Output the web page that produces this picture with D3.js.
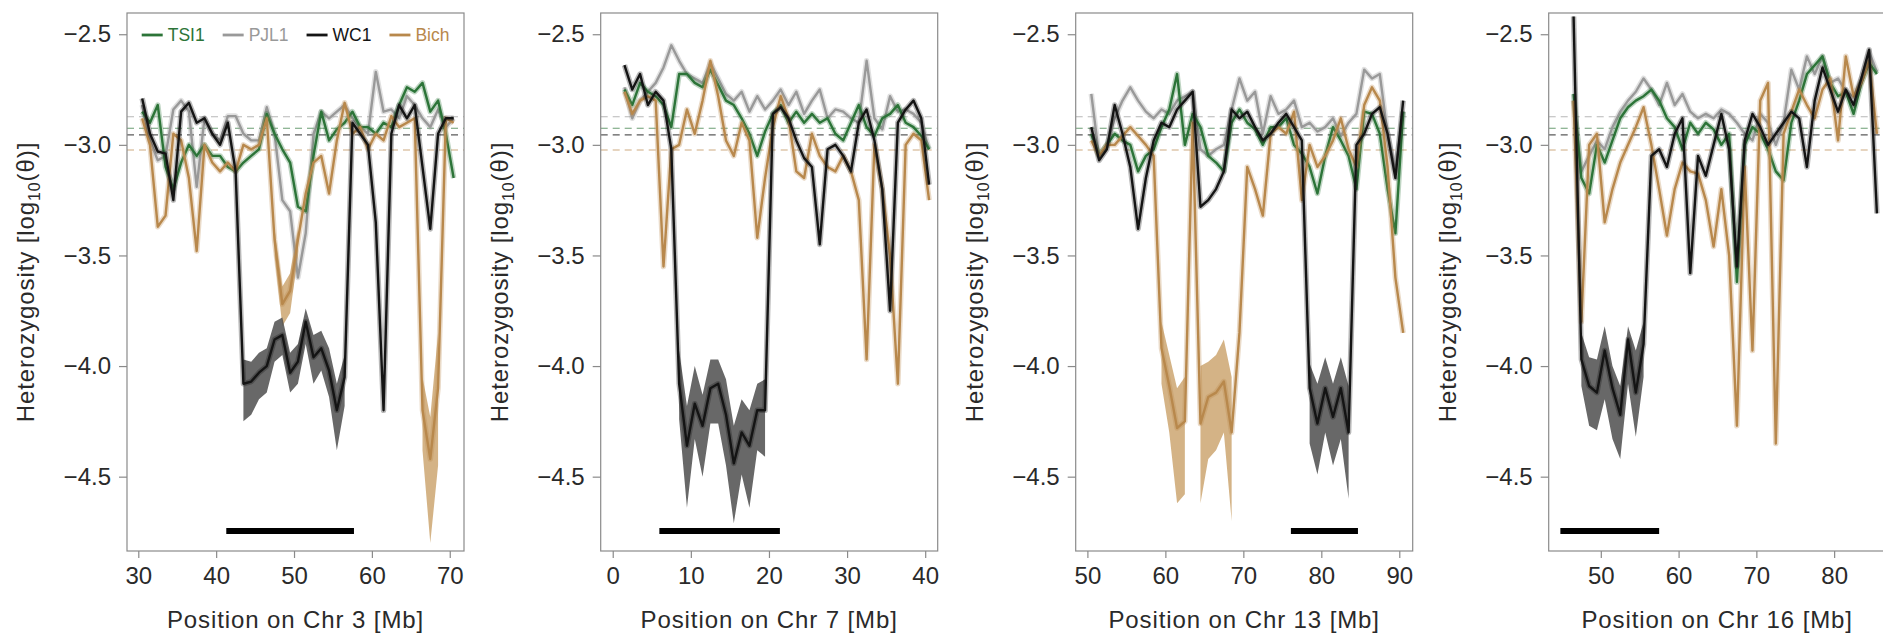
<!DOCTYPE html>
<html><head><meta charset="utf-8">
<script src="https://cdn.jsdelivr.net/npm/d3@7"></script>
<style>
body{margin:0;background:#fff}
svg{display:block;font-family:"Liberation Sans",Arial,Helvetica,sans-serif}
</style>
</head><body>
<svg id="chart" width="1883" height="637"></svg>
<script>
// ---------------- DATA ----------------
const chromosomes = ["3", "7", "13", "16"];
const sampleNames = ["TSI1", "PJL1", "WC1", "Bich"];
const sampleColors = {TSI1: "#2c7438", PJL1: "#999999", WC1: "#141414", Bich: "#b8884c"};

// window start (Mb) of the first 1-Mb window in each panel
const windowStart = {"3": 30.5, "7": 1.5, "13": 50.5, "16": 46.5};

// Chr 3 (41 windows)
const tsi1_chr3 = [-2.85,-2.9,-2.82,-3.1,-3.2,-3.08,-3.0,-3.05,-3.0,-3.05,-3.05,-3.1,-3.12,-3.08,-3.05,-3.02,-2.86,-2.95,-3.02,-3.08,-3.28,-3.3,-3.05,-2.85,-2.98,-2.93,-2.9,-2.85,-2.92,-2.92,-2.95,-2.9,-2.92,-2.82,-2.74,-2.76,-2.72,-2.85,-2.8,-2.95,-3.15];
const pjl1_chr3 = [-2.82,-2.98,-3.07,-3.05,-2.84,-2.8,-2.85,-3.19,-2.88,-2.95,-2.98,-2.87,-2.87,-2.95,-2.98,-2.98,-2.83,-2.95,-3.25,-3.3,-3.6,-3.4,-2.95,-2.85,-2.88,-2.85,-2.82,-2.88,-2.92,-2.95,-2.67,-2.85,-2.84,-2.88,-2.78,-2.82,-2.88,-2.92,-2.84,-2.92,-2.88];
const wc1_chr3  = [-2.79,-2.95,-3.03,-3.04,-3.25,-2.85,-2.81,-2.9,-2.88,-2.95,-3.0,-2.9,-3.12,-4.08,-4.07,-4.03,-4.0,-3.88,-3.86,-4.03,-3.98,-3.8,-3.96,-3.92,-4.02,-4.2,-4.05,-2.9,-2.95,-3.0,-3.35,-4.2,-2.95,-2.82,-2.88,-2.82,-3.1,-3.38,-2.95,-2.88,-2.88];
const bich_chr3 = [-2.88,-3.0,-3.37,-3.32,-2.95,-2.98,-3.15,-3.48,-3.0,-3.08,-3.12,-3.08,-3.12,-3.0,-3.02,-3.0,-2.88,-3.43,-3.72,-3.66,-3.43,-3.22,-3.08,-3.05,-3.22,-2.98,-2.81,-2.95,-2.92,-3.02,-2.95,-2.98,-2.87,-2.92,-2.9,-2.88,-4.2,-4.42,-4.1,-2.88,-2.9];

// Chr 7 (40 windows)
const tsi1_chr7 = [-2.75,-2.82,-2.72,-2.76,-2.78,-2.82,-2.92,-2.68,-2.68,-2.72,-2.74,-2.66,-2.73,-2.8,-2.82,-2.88,-2.95,-3.05,-2.94,-2.86,-2.82,-2.9,-2.85,-2.9,-2.86,-2.9,-2.88,-2.95,-2.98,-2.9,-2.82,-2.92,-2.96,-2.88,-2.86,-2.82,-2.9,-2.92,-2.96,-3.02];
const pjl1_chr7 = [-2.74,-2.88,-2.8,-2.76,-2.72,-2.65,-2.55,-2.62,-2.68,-2.7,-2.72,-2.63,-2.7,-2.77,-2.8,-2.76,-2.85,-2.78,-2.84,-2.8,-2.75,-2.82,-2.76,-2.86,-2.8,-2.75,-2.88,-2.84,-2.85,-2.88,-2.9,-2.62,-2.88,-2.93,-2.78,-2.85,-2.84,-2.86,-2.9,-3.02];
const wc1_chr7  = [-2.64,-2.75,-2.68,-2.82,-2.76,-2.8,-3.02,-4.08,-4.36,-4.17,-4.27,-4.1,-4.08,-4.22,-4.44,-4.3,-4.36,-4.2,-4.2,-2.86,-2.83,-2.88,-2.98,-3.06,-3.1,-3.45,-3.02,-3.0,-3.05,-3.12,-2.9,-2.84,-2.98,-3.2,-3.75,-2.9,-2.84,-2.8,-2.88,-3.18];
const bich_chr7 = [-2.76,-2.86,-2.8,-2.78,-2.8,-3.55,-3.02,-3.0,-2.84,-2.95,-2.8,-2.62,-2.78,-2.98,-3.05,-2.9,-2.98,-3.42,-3.15,-2.92,-2.78,-2.88,-3.12,-3.15,-2.95,-3.05,-3.1,-3.12,-3.05,-3.12,-3.25,-3.97,-3.0,-3.2,-3.5,-4.08,-3.0,-2.95,-2.98,-3.25];

// Chr 13 (41 windows)
const tsi1_chr13 = [-2.95,-3.05,-3.0,-2.95,-2.98,-3.0,-3.12,-3.05,-3.02,-2.92,-2.84,-2.68,-3.0,-2.86,-2.92,-3.05,-3.08,-3.12,-2.9,-2.84,-2.9,-2.93,-3.0,-2.92,-2.92,-2.88,-3.0,-3.04,-3.1,-3.22,-3.05,-2.92,-2.98,-3.05,-3.2,-2.85,-2.86,-2.95,-3.2,-3.4,-2.85];
const pjl1_chr13 = [-2.77,-3.05,-3.0,-2.88,-2.8,-2.74,-2.8,-2.85,-2.88,-2.84,-2.86,-2.8,-2.78,-2.76,-3.02,-3.05,-3.02,-3.0,-2.84,-2.7,-2.8,-2.76,-2.95,-2.78,-2.86,-2.84,-2.8,-2.92,-2.9,-2.94,-2.92,-2.88,-2.96,-2.9,-2.86,-2.66,-2.7,-2.68,-2.95,-3.12,-2.85];
const wc1_chr13  = [-2.92,-3.07,-3.02,-2.82,-2.95,-3.1,-3.38,-3.15,-2.98,-2.9,-2.92,-2.84,-2.8,-2.76,-3.28,-3.25,-3.2,-3.12,-2.84,-2.88,-2.85,-2.92,-2.98,-2.95,-2.9,-2.86,-2.92,-2.98,-4.1,-4.26,-4.1,-4.23,-4.1,-4.3,-3.0,-2.95,-2.86,-2.83,-2.95,-3.15,-2.8];
const bich_chr13 = [-2.98,-3.05,-3.0,-3.0,-2.96,-2.92,-2.96,-3.0,-3.05,-3.92,-4.09,-4.28,-4.25,-2.9,-4.26,-4.14,-4.12,-4.07,-4.3,-3.85,-3.1,-3.2,-3.32,-2.95,-2.92,-2.95,-2.85,-3.25,-3.0,-3.1,-3.05,-2.98,-2.88,-3.02,-3.1,-2.82,-2.74,-2.8,-3.1,-3.6,-3.85];

// Chr 16 (40 windows)
const tsi1_chr16 = [-2.77,-3.15,-3.22,-3.0,-3.08,-2.98,-2.88,-2.83,-2.8,-2.78,-2.75,-2.8,-2.88,-2.92,-3.02,-2.9,-2.95,-2.9,-2.93,-3.0,-2.95,-3.62,-3.0,-2.92,-2.95,-3.02,-3.12,-3.16,-2.9,-2.8,-2.68,-2.64,-2.6,-2.72,-2.78,-2.76,-2.86,-2.72,-2.63,-2.68];
const pjl1_chr16 = [-2.8,-3.12,-3.05,-2.98,-3.02,-2.92,-2.85,-2.8,-2.76,-2.7,-2.75,-2.82,-2.72,-2.82,-2.77,-2.85,-2.88,-2.86,-2.88,-2.84,-2.86,-2.9,-2.95,-2.98,-2.86,-2.9,-3.0,-2.9,-2.66,-2.75,-2.6,-2.68,-2.6,-2.72,-2.7,-2.76,-2.78,-2.7,-2.58,-2.67];
const wc1_chr16  = [-2.42,-3.97,-4.09,-4.12,-3.93,-4.1,-4.22,-3.88,-4.12,-3.9,-3.05,-3.02,-3.1,-2.95,-2.88,-3.58,-3.05,-3.14,-3.0,-2.86,-3.02,-3.55,-2.98,-2.86,-2.92,-3.0,-2.95,-2.9,-2.85,-2.88,-3.1,-2.8,-2.65,-2.75,-2.85,-2.75,-2.82,-2.7,-2.57,-3.31];
const bich_chr16 = [-2.8,-3.8,-3.0,-2.95,-3.35,-3.2,-3.08,-3.0,-2.92,-2.83,-3.0,-3.2,-3.41,-3.2,-3.08,-3.12,-3.13,-3.25,-3.46,-3.2,-3.5,-4.27,-3.1,-3.93,-2.8,-2.72,-4.35,-2.95,-2.85,-2.75,-2.82,-2.88,-2.75,-2.7,-2.98,-2.6,-2.78,-2.72,-2.62,-2.95];

// confidence bands inside runs of homozygosity: [position, upper, lower]
const wc1Band_chr3  = [[[43.5,-3.97,-4.25],[44.5,-3.98,-4.22],[45.5,-3.94,-4.15],[46.5,-3.92,-4.12],[47.5,-3.8,-3.98],[48.5,-3.78,-3.95],[49.5,-3.94,-4.12],[50.5,-3.9,-4.08],[51.5,-3.74,-3.9],[52.5,-3.86,-4.08],[53.5,-3.84,-4.02],[54.5,-3.92,-4.14],[55.5,-4.08,-4.38],[56.5,-3.95,-4.18]]];
const bichBand_chr3 = [[[47.5,-3.38,-3.5],[48.5,-3.64,-3.82],[49.5,-3.58,-3.76],[50.5,-3.38,-3.5]],
                       [[66.5,-4.05,-4.38],[67.5,-4.23,-4.8],[68.5,-3.85,-4.45]]];
const wc1Band_chr7  = [[[8.5,-3.93,-4.24],[9.5,-4.18,-4.64],[10.5,-4.0,-4.33],[11.5,-4.13,-4.5],[12.5,-3.97,-4.26],[13.5,-3.97,-4.26],[14.5,-4.06,-4.45],[15.5,-4.27,-4.71],[16.5,-4.15,-4.49],[17.5,-4.2,-4.64],[18.5,-4.08,-4.38],[19.5,-4.06,-4.41]]];
const bichBand_chr7 = [];
const wc1Band_chr13 = [[[78.5,-3.99,-4.35],[79.5,-4.08,-4.49],[80.5,-3.96,-4.3],[81.5,-4.08,-4.45],[82.5,-3.96,-4.33],[83.5,-4.09,-4.6]]];
const bichBand_chr13 = [[[59.5,-3.8,-4.08],[60.5,-3.95,-4.3],[61.5,-4.1,-4.62],[62.5,-4.05,-4.58]],
                        [[64.5,-4.0,-4.62],[65.5,-3.98,-4.42],[66.5,-3.95,-4.38],[67.5,-3.88,-4.3],[68.5,-4.05,-4.7]]];
const wc1Band_chr16 = [[[47.5,-3.85,-4.09],[48.5,-3.96,-4.27],[49.5,-3.97,-4.29],[50.5,-3.82,-4.15],[51.5,-4.0,-4.33],[52.5,-4.09,-4.42],[53.5,-3.82,-4.08],[54.5,-3.93,-4.32],[55.5,-3.8,-4.05]]];
const bichBand_chr16 = [];

// genome-wide mean heterozygosity per sample (dashed lines)
const genomeMean = {PJL1: -2.873, TSI1: -2.925, WC1: -2.955, Bich: -3.023};

// black bars: ROH extent [start, end] in Mb
const rohBars = {"3": [41.3, 57.7], "7": [5.97, 21.4], "13": [76.1, 84.7], "16": [44.8, 57.5]};

// axis ticks
const yTicks = [-2.5, -3.0, -3.5, -4.0, -4.5];
const xTicks = {"3": [30,40,50,60,70], "7": [0,10,20,30,40], "13": [50,60,70,80,90], "16": [50,60,70,80]};
const xDomains = {"3": [28.55, 71.83], "7": [-1.54, 41.6], "13": [48.5, 91.72], "16": [43.3, 86.63]};
const yDomain = [-4.836, -2.404];

const seriesByChr = {
  "3":  {TSI1: tsi1_chr3,  PJL1: pjl1_chr3,  WC1: wc1_chr3,  Bich: bich_chr3},
  "7":  {TSI1: tsi1_chr7,  PJL1: pjl1_chr7,  WC1: wc1_chr7,  Bich: bich_chr7},
  "13": {TSI1: tsi1_chr13, PJL1: pjl1_chr13, WC1: wc1_chr13, Bich: bich_chr13},
  "16": {TSI1: tsi1_chr16, PJL1: pjl1_chr16, WC1: wc1_chr16, Bich: bich_chr16}
};
const bandsByChr = {
  "3":  {WC1: wc1Band_chr3,  Bich: bichBand_chr3},
  "7":  {WC1: wc1Band_chr7,  Bich: bichBand_chr7},
  "13": {WC1: wc1Band_chr13, Bich: bichBand_chr13},
  "16": {WC1: wc1Band_chr16, Bich: bichBand_chr16}
};

// ---------------- LAYOUT ----------------
const panelLeft = [127, 600.7, 1075.7, 1548.7];
const panelW = 337, plotTop = 13, plotBottom = 551;
const bandFill = {WC1: "#4d4d4d", Bich: "#c9a068"};
const drawOrder = ["PJL1", "TSI1", "Bich", "WC1"];

const svg = d3.select("#chart");
const y = d3.scaleLinear().domain(yDomain).range([plotBottom, plotTop]);

chromosomes.forEach((chr, i) => {
  const left = panelLeft[i];
  const x = d3.scaleLinear().domain(xDomains[chr]).range([left, left + panelW]);
  const g = svg.append("g");

  const clipId = "clip" + i;
  svg.append("clipPath").attr("id", clipId).append("rect")
    .attr("x", left).attr("y", plotTop).attr("width", panelW).attr("height", plotBottom - plotTop);
  const plot = g.append("g").attr("clip-path", `url(#${clipId})`);

  // dashed genome-wide means
  sampleNames.forEach(s => {
    plot.append("line")
      .attr("x1", left).attr("x2", left + panelW)
      .attr("y1", y(genomeMean[s])).attr("y2", y(genomeMean[s]))
      .attr("stroke", sampleColors[s]).attr("stroke-width", 1.1)
      .attr("stroke-opacity", 0.7).attr("stroke-dasharray", "7,5");
  });

  const area = d3.area().x(d => x(d[0])).y0(d => y(d[2])).y1(d => y(d[1]));
  ["Bich", "WC1"].forEach(s => {
    (bandsByChr[chr][s] || []).forEach(seg => {
      plot.append("path").attr("d", area(seg))
        .attr("fill", bandFill[s]).attr("fill-opacity", s === "WC1" ? 0.85 : 0.8);
    });
  });

  const line = d3.line().x(d => x(d[0])).y(d => y(d[1]));
  drawOrder.forEach(s => {
    const vals = seriesByChr[chr][s];
    const pts = vals.map((v, k) => [windowStart[chr] + k, v]);
    plot.append("path").attr("d", line(pts)).attr("fill", "none")
      .attr("stroke", sampleColors[s]).attr("stroke-width", 5.5)
      .attr("stroke-opacity", 0.3).attr("stroke-linejoin", "round");
    plot.append("path").attr("d", line(pts)).attr("fill", "none")
      .attr("stroke", sampleColors[s]).attr("stroke-width", 2.4)
      .attr("stroke-linejoin", "round");
  });

  // ROH bar
  const bar = rohBars[chr];
  g.append("line").attr("x1", x(bar[0])).attr("x2", x(bar[1]))
    .attr("y1", 531).attr("y2", 531).attr("stroke", "#000").attr("stroke-width", 6);

  // box
  g.append("rect").attr("x", left).attr("y", plotTop).attr("width", panelW).attr("height", plotBottom - plotTop)
    .attr("fill", "none").attr("stroke", "#8a8a8a").attr("stroke-width", 1.2);

  // axes
  const yAxis = d3.axisLeft(y).tickValues(yTicks).tickSize(8).tickPadding(8)
    .tickFormat(d3.format(".1f"));
  const ya = g.append("g").attr("transform", `translate(${left},0)`).call(yAxis);
  const xAxis = d3.axisBottom(x).tickValues(xTicks[chr]).tickSize(7).tickPadding(9)
    .tickFormat(d3.format("d"));
  const xa = g.append("g").attr("transform", `translate(0,${plotBottom})`).call(xAxis);
  [ya, xa].forEach(a => {
    a.select(".domain").remove();
    a.selectAll(".tick line").attr("stroke", "#8a8a8a").attr("stroke-width", 1.2);
    a.selectAll(".tick text").attr("fill", "#2a2a2a").style("font-size", "24px")
      .style("font-family", '"Liberation Sans",Arial,sans-serif');
  });

  // axis titles
  g.append("text").attr("x", left + panelW / 2).attr("y", 628)
    .attr("text-anchor", "middle").attr("fill", "#2a2a2a")
    .style("font-size", "24px").style("letter-spacing", "0.9px")
    .text(`Position on Chr ${chr} [Mb]`);

  const yt = g.append("text")
    .attr("transform", `translate(${left - 93},${(plotTop + plotBottom) / 2}) rotate(-90)`)
    .attr("text-anchor", "middle").attr("fill", "#2a2a2a")
    .style("font-size", "24px").style("letter-spacing", "0.9px");
  yt.append("tspan").text("Heterozygosity [log");
  yt.append("tspan").attr("dy", 6).style("font-size", "16px").text("10");
  yt.append("tspan").attr("dy", -6).text("(θ)]");

  // legend (first panel only)
  if (i === 0) {
    let lx = left + 14.7;
    const ly = 35;
    sampleNames.forEach(s => {
      g.append("line").attr("x1", lx).attr("x2", lx + 21).attr("y1", ly).attr("y2", ly)
        .attr("stroke", sampleColors[s]).attr("stroke-width", 2.8);
      const t = g.append("text").attr("x", lx + 26).attr("y", ly + 6)
        .attr("fill", sampleColors[s]).style("font-size", "17.5px").text(s);
      lx += 26 + t.node().getComputedTextLength() + 18;
    });
  }
});
</script>
</body></html>
